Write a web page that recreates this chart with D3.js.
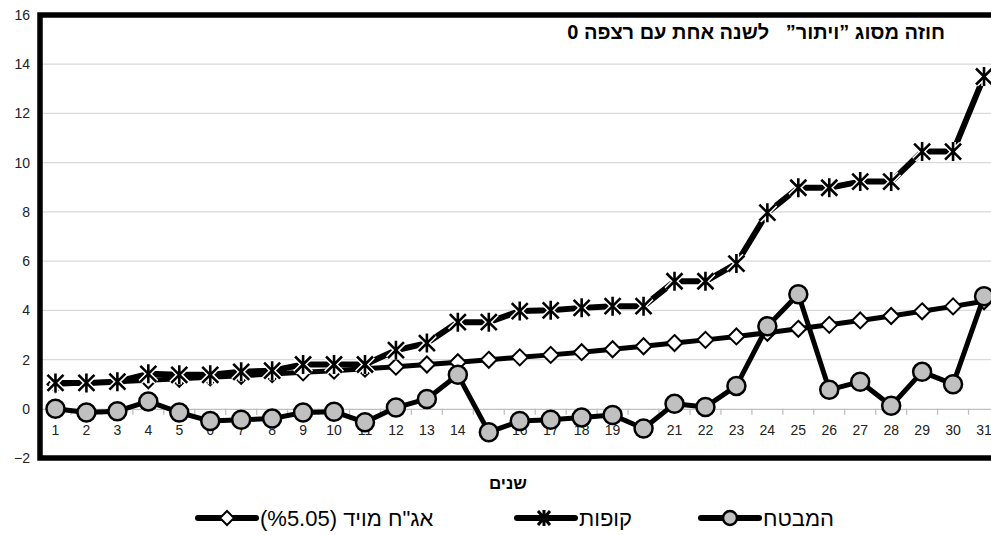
<!DOCTYPE html>
<html>
<head>
<meta charset="utf-8">
<script src="https://cdn.jsdelivr.net/npm/d3@7"></script>
<style>
  body { margin: 0; background: #fff; }
  svg { font-family: "Liberation Sans", Arial, sans-serif; }
</style>
</head>
<body>
<div id="chart"></div>
<script>
var years = d3.range(1, 32);
// המבטח
var insurer = [0, -0.15, -0.1, 0.3, -0.15, -0.5, -0.45, -0.4, -0.15, -0.12, -0.55, 0.05, 0.4, 1.38, -0.95, -0.5,
  -0.45, -0.35, -0.25, -0.8, 0.2, 0.07, 0.93, 3.35, 4.65, 0.77, 1.1, 0.12, 1.5, 1.0, 4.57];
// קופות
var funds = [1.05, 1.05, 1.1, 1.42, 1.38, 1.38, 1.5, 1.55, 1.8, 1.8, 1.8, 2.38, 2.67, 3.52, 3.52, 3.97,
  4.0, 4.1, 4.17, 4.17, 5.18, 5.18, 5.9, 7.97, 8.98, 8.98, 9.23, 9.23, 10.45, 10.45, 13.5];
// אג"ח מויד (5.05%)
var bond = [1.0, 1.05, 1.1, 1.16, 1.22, 1.28, 1.34, 1.41, 1.48, 1.55, 1.63, 1.71, 1.8, 1.89, 1.99, 2.09,
  2.19, 2.3, 2.42, 2.54, 2.67, 2.8, 2.94, 3.09, 3.25, 3.41, 3.59, 3.77, 3.96, 4.16, 4.37];
var yTicks = [-2, 0, 2, 4, 6, 8, 10, 12, 14, 16];

var W = 991, H = 535;
var svg = d3.select('#chart').append('svg').attr('width', W).attr('height', H);

var x = d3.scaleBand().domain(years).range([40, 999.5]);
var y = d3.scaleLinear().domain([-2, 16]).range([458, 15]);
var cx = function(d, i) { return x(years[i]) + x.bandwidth() / 2; };

// gridlines
svg.append('g').selectAll('line').data(yTicks.filter(function(t) { return t > -2 && t < 16 && t != 0; }))
  .enter().append('line')
  .attr('x1', 40).attr('x2', W).attr('y1', function(d) { return y(d); }).attr('y2', function(d) { return y(d); })
  .attr('stroke', '#d9d9d9').attr('stroke-width', 1.3);

// x axis at zero
var xAxis = d3.axisBottom(x).tickSize(0).tickPadding(16);
var gx = svg.append('g').attr('transform', 'translate(0,' + y(0) + ')').call(xAxis);
gx.select('.domain').attr('stroke', '#bfbfbf').attr('stroke-width', 1.3);
gx.selectAll('text').attr('font-size', 14).attr('fill', '#222').attr('font-family', 'Liberation Sans, Arial');
// category boundary ticks
gx.append('g').selectAll('line').data(years.slice(1)).enter().append('line')
  .attr('x1', function(d) { return x(d); }).attr('x2', function(d) { return x(d); })
  .attr('y1', 0).attr('y2', 6).attr('stroke', '#bfbfbf').attr('stroke-width', 1.3);

// y axis labels
var yAxis = d3.axisLeft(y).tickValues(yTicks).tickSize(0).tickPadding(10);
var gy = svg.append('g').attr('transform', 'translate(40,0)').call(yAxis);
gy.select('.domain').remove();
gy.selectAll('text').attr('font-size', 14).attr('fill', '#222').attr('font-family', 'Liberation Sans, Arial');

var line = d3.line().x(cx).y(function(d) { return y(d); });

// bond series (diamonds)
svg.append('path').datum(bond).attr('d', line).attr('fill', 'none')
  .attr('stroke', '#000').attr('stroke-width', 5).attr('stroke-linejoin', 'round');
svg.append('g').selectAll('path').data(bond).enter().append('path')
  .attr('d', 'M0,-8L8,0L0,8L-8,0Z')
  .attr('transform', function(d, i) { return 'translate(' + cx(d, i) + ',' + y(d) + ')'; })
  .attr('fill', '#fff').attr('stroke', '#000').attr('stroke-width', 2);

// funds series (stars)
var starPath = 'M-8,-8L8,8M-8,8L8,-8M0,-9.5L0,9.5';
svg.append('path').datum(funds).attr('d', line).attr('fill', 'none')
  .attr('stroke', '#000').attr('stroke-width', 6).attr('stroke-linejoin', 'round');
svg.append('g').selectAll('path').data(funds).enter().append('path')
  .attr('d', starPath)
  .attr('transform', function(d, i) { return 'translate(' + cx(d, i) + ',' + y(d) + ')'; })
  .attr('fill', 'none').attr('stroke', '#fff').attr('stroke-width', 5.5);
svg.append('g').selectAll('path').data(funds).enter().append('path')
  .attr('d', starPath)
  .attr('transform', function(d, i) { return 'translate(' + cx(d, i) + ',' + y(d) + ')'; })
  .attr('fill', 'none').attr('stroke', '#000').attr('stroke-width', 2.6);

// insurer series (circles)
svg.append('path').datum(insurer).attr('d', line).attr('fill', 'none')
  .attr('stroke', '#000').attr('stroke-width', 5).attr('stroke-linejoin', 'round');
svg.append('g').selectAll('circle').data(insurer).enter().append('circle')
  .attr('cx', cx).attr('cy', function(d) { return y(d); }).attr('r', 9)
  .attr('fill', '#c0c0c0').attr('stroke', '#000').attr('stroke-width', 2.5);

// frame
svg.append('rect').attr('x', 40).attr('y', 15).attr('width', 959.5).attr('height', 443)
  .attr('fill', 'none').attr('stroke', '#000').attr('stroke-width', 5.5);

// title
svg.append('text').attr('x', 945).attr('y', 39)
  .attr('direction', 'rtl').attr('text-anchor', 'start')
  .style('white-space', 'pre')
  .attr('font-size', 20).attr('font-weight', 'bold')
  .text('חוזה מסוג ”ויתור”   לשנה אחת עם רצפה 0');

// x title
svg.append('text').attr('x', 508).attr('y', 489).attr('text-anchor', 'middle')
  .attr('font-size', 17).attr('font-weight', 'bold').text('שנים');

// legend
var legend = [
  { name: '(%5.05) אג"ח מויד', x: 196, mark: 'diamond' },
  { name: 'קופות', x: 515, mark: 'star' },
  { name: 'המבטח', x: 699, mark: 'circle' }
];
var lg = svg.append('g').selectAll('g').data(legend).enter().append('g')
  .attr('transform', function(d) { return 'translate(' + d.x + ',518)'; });
lg.append('line').attr('x1', 2).attr('x2', 60).attr('y1', 0).attr('y2', 0)
  .attr('stroke', '#000').attr('stroke-width', 6).attr('stroke-linecap', 'round');
lg.filter(function(d) { return d.mark == 'diamond'; }).append('path')
  .attr('d', 'M0,-7L7,0L0,7L-7,0Z').attr('transform', 'translate(31,0)')
  .attr('fill', '#fff').attr('stroke', '#000').attr('stroke-width', 2);
lg.filter(function(d) { return d.mark == 'star'; }).append('path')
  .attr('d', 'M-6,-7L6,7M-6,7L6,-7M0,-8L0,8').attr('transform', 'translate(29,0)')
  .attr('fill', 'none').attr('stroke', '#000').attr('stroke-width', 3);
lg.filter(function(d) { return d.mark == 'circle'; }).append('circle')
  .attr('cx', 31).attr('cy', 0).attr('r', 7)
  .attr('fill', '#c0c0c0').attr('stroke', '#000').attr('stroke-width', 2.5);
lg.append('text').attr('x', 64).attr('y', 7.5).attr('font-size', 22)
  .text(function(d) { return d.name; });
</script>
</body>
</html>
